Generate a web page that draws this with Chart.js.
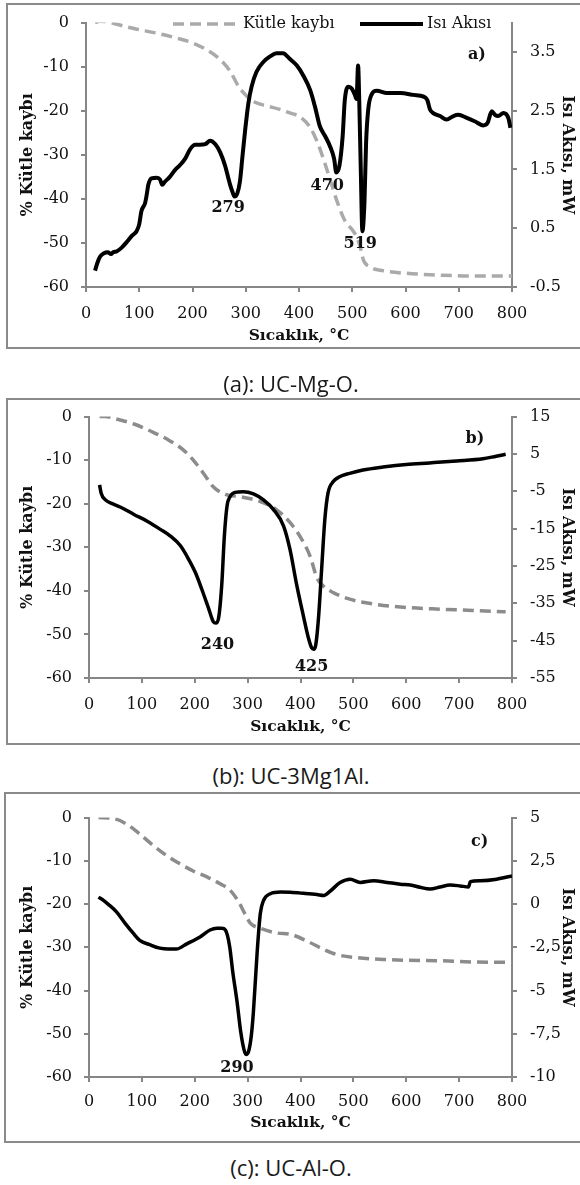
<!DOCTYPE html>
<html>
<head>
<meta charset="utf-8">
<script src="https://cdn.jsdelivr.net/npm/chart.js@4.4.1/dist/chart.umd.min.js"></script>
<style>
  body { margin: 0; width: 580px; height: 1185px; position: relative; overflow: hidden; background: #fff; }
  .frame { position: absolute; width: 620px; border: 2px solid #8a8a8a; box-sizing: border-box; }
  canvas { position: absolute; left: 0; }
  .cap { position: absolute; left: 0; width: 582px; text-align: center; font: 22px "Open Sans", sans-serif; line-height: 26px; color: #1a1a1a; }
</style>
</head>
<body>
<div class="frame" style="left:6px; top:3px; height:346px;"></div>
<div class="frame" style="left:6px; top:398px; height:347px;"></div>
<div class="frame" style="left:4px; top:792px; height:351px;"></div>

<canvas id="chartA" width="580" height="350" style="top:0px"></canvas>
<canvas id="chartB" width="580" height="350" style="top:394px"></canvas>
<canvas id="chartC" width="580" height="350" style="top:795px"></canvas>

<div class="cap" style="top:370px">(a): UC-Mg-O.</div>
<div class="cap" style="top:762px">(b): UC-3Mg1Al.</div>
<div class="cap" style="top:1154px">(c): UC-Al-O.</div>

<script>
// ---- panel a: UC-Mg-O ----
const aHeatT = [17, 21, 26, 33, 41, 47, 51, 58, 67, 76, 86, 95, 100, 104, 111, 114, 117, 123, 133, 139, 143, 148, 157, 167, 176, 186, 196, 205, 214, 224, 233, 243, 252, 261, 270, 275, 279, 284, 289, 294, 299, 305, 311, 320, 333, 345, 358, 370, 383, 396, 408, 421, 430, 439, 449, 458, 466, 470, 476, 482, 486, 493, 499, 505, 508, 511, 513, 516, 519, 523, 526, 530, 536, 546, 565, 590, 615, 634, 641, 646, 652, 665, 677, 690, 699, 715, 730, 746, 754, 762, 768, 774, 784, 793, 797];
const aHeatV = [-0.22, -0.10, 0.01, 0.07, 0.09, 0.06, 0.09, 0.11, 0.17, 0.26, 0.37, 0.45, 0.57, 0.79, 0.93, 1.07, 1.24, 1.35, 1.36, 1.33, 1.24, 1.29, 1.37, 1.49, 1.57, 1.68, 1.85, 1.92, 1.92, 1.93, 1.99, 1.93, 1.79, 1.57, 1.26, 1.12, 1.04, 1.09, 1.29, 1.74, 2.18, 2.63, 2.91, 3.16, 3.33, 3.42, 3.48, 3.48, 3.38, 3.27, 3.10, 2.85, 2.57, 2.24, 2.07, 1.90, 1.68, 1.45, 1.57, 2.07, 2.68, 2.91, 2.88, 2.77, 2.70, 3.27, 2.73, 1.51, 0.45, 0.96, 1.96, 2.52, 2.77, 2.84, 2.80, 2.80, 2.77, 2.74, 2.68, 2.52, 2.46, 2.41, 2.35, 2.41, 2.43, 2.38, 2.32, 2.25, 2.29, 2.49, 2.43, 2.41, 2.46, 2.38, 2.21];
const aMassT = [17, 26, 40, 51, 88, 133, 170, 202, 227, 252, 271, 286, 302, 320, 339, 364, 383, 402, 421, 436, 449, 461, 471, 486, 505, 515, 521, 533, 558, 602, 665, 727, 800];
const aMassV = [0, 0.3, 0.2, -0.15, -1.3, -2.4, -3.5, -4.7, -6.2, -8.4, -11.1, -14.4, -16.7, -18.2, -18.9, -19.7, -20.5, -21.4, -23.8, -27.6, -32.1, -36.6, -40.4, -44.9, -47.9, -50.9, -53.9, -55.4, -56.3, -56.9, -57.3, -57.5, -57.5];
const aRightTicks = [-0.5, 0.5, 1.5, 2.5, 3.5];

// ---- panel b: UC-3Mg1Al ----
const bHeatT = [20, 23, 31, 44, 59, 85, 110, 135, 154, 173, 188, 201, 214, 226, 235, 240, 245, 251, 256, 261, 267, 276, 292, 311, 330, 349, 368, 380, 393, 405, 415, 421, 425, 429, 434, 440, 446, 452, 462, 474, 493, 518, 556, 600, 644, 695, 745, 770, 788];
const bHeatV = [-3.3, -5.5, -7.3, -8.3, -9.2, -11.2, -13.0, -15.2, -17.0, -19.6, -23.1, -26.7, -31.5, -36.3, -39.9, -40.3, -39.0, -30.2, -17.0, -9.0, -6.4, -5.3, -5.1, -5.7, -7.3, -9.9, -14.3, -20.5, -30.2, -38.1, -44.3, -46.9, -47.3, -46.0, -39.0, -25.8, -12.6, -5.5, -2.4, -1.1, -0.2, 0.7, 1.5, 2.2, 2.6, 3.1, 3.7, 4.4, 4.9];
const bMassT = [20, 30, 53, 85, 116, 148, 176, 198, 217, 235, 254, 286, 324, 355, 380, 399, 418, 431, 443, 462, 493, 537, 600, 663, 726, 788];
const bMassV = [0, 0, -0.6, -1.7, -3.3, -5.2, -7.4, -10.1, -13.1, -16.1, -17.7, -18.4, -19.5, -21.4, -24.3, -27.5, -32, -37, -38.9, -40.4, -41.9, -43.0, -43.8, -44.2, -44.5, -44.8];
const bRightTicks = [-55, -45, -35, -25, -15, -5, 5, 15];

// ---- panel c: UC-Al-O ----
const cHeatT = [18, 28, 36, 52, 68, 84, 96, 115, 134, 150, 165, 185, 210, 229, 242, 251, 258, 266, 272, 280, 287, 293, 297, 302, 307, 311, 318, 324, 330, 343, 362, 381, 406, 431, 444, 457, 475, 494, 513, 538, 564, 589, 608, 626, 645, 664, 683, 702, 718, 721, 740, 771, 800];
const cHeatV = [0.4, 0.2, 0.0, -0.45, -1.1, -1.7, -2.1, -2.35, -2.55, -2.6, -2.6, -2.3, -1.9, -1.5, -1.4, -1.4, -1.5, -2.45, -3.95, -5.65, -7.4, -8.4, -8.7, -8.5, -7.6, -6.2, -2.8, -0.55, 0.2, 0.6, 0.7, 0.68, 0.62, 0.55, 0.5, 0.77, 1.25, 1.44, 1.25, 1.35, 1.25, 1.15, 1.1, 0.97, 0.87, 0.99, 1.1, 1.05, 0.99, 1.3, 1.35, 1.44, 1.63];
const cMassT = [18, 46, 71, 96, 122, 147, 172, 198, 223, 248, 267, 283, 296, 305, 324, 356, 381, 413, 444, 469, 507, 557, 601, 664, 727, 800];
const cMassV = [0, -0.2, -1.5, -3.8, -6.5, -8.8, -10.7, -12.4, -13.7, -15.3, -16.8, -19.5, -22.5, -24.4, -25.6, -26.7, -27.0, -28.6, -30.5, -31.7, -32.4, -32.8, -33.0, -33.1, -33.4, -33.5];
const cRightTicks = [-10, -7.5, -5, -2.5, 0, 2.5, 5];

const serif = 'DejaVu Serif';
const axisGray = '#868686';
const inkColor = '#111';

const toPts = (xs, ys) => xs.map((x, i) => ({ x, y: ys[i] }));

// bold peak labels placed in data units
const textMarks = {
    id: 'textMarks',
    afterDatasetsDraw(chart, args, opts) {
        const { ctx, scales } = chart;
        ctx.save();
        ctx.font = `bold 16px "${serif}"`;
        ctx.fillStyle = inkColor;
        ctx.textAlign = 'center';
        ctx.textBaseline = 'middle';
        (opts.items || []).forEach(m => {
            ctx.fillText(m.text, scales.x.getPixelForValue(m.x), scales.y.getPixelForValue(m.y));
        });
        ctx.restore();
    }
};

// Excel-style legend laid over the top edge of the plot
const overlayLegend = {
    id: 'overlayLegend',
    afterDraw(chart, args, opts) {
        if (!opts.items) return;
        const { ctx } = chart;
        ctx.save();
        ctx.font = `16px "${serif}"`;
        ctx.fillStyle = inkColor;
        ctx.textAlign = 'left';
        ctx.textBaseline = 'middle';
        opts.items.forEach(it => {
            const ds = chart.data.datasets[it.dataset];
            ctx.strokeStyle = ds.borderColor;
            ctx.lineWidth = ds.borderWidth;
            ctx.setLineDash(ds.borderDash || []);
            ctx.beginPath();
            ctx.moveTo(it.x, opts.y);
            ctx.lineTo(it.x + it.w, opts.y);
            ctx.stroke();
            ctx.setLineDash([]);
            ctx.fillText(ds.label, it.tx, opts.y);
        });
        ctx.restore();
    }
};

function makePanel(p) {
    const tickFont = { family: serif, size: 16 };
    const titleFont = { family: serif, size: 16, weight: 'bold' };
    const xTitleFont = { family: serif, size: 15.5, weight: 'bold' };
    const tickGrid = { drawOnChartArea: false, tickLength: 5, color: axisGray, lineWidth: 2 };
    const border = { color: axisGray, width: 2 };

    new Chart(document.getElementById(p.id), {
        type: 'line',
        data: {
            datasets: [
                {
                    label: 'Isı Akısı', data: toPts(p.heatT, p.heatV), yAxisID: 'y2',
                    borderColor: '#000', borderWidth: p.heatWidth, pointRadius: 0,
                    cubicInterpolationMode: 'monotone', borderJoinStyle: 'round', fill: false
                },
                {
                    label: 'Kütle kaybı', data: toPts(p.massT, p.massV), yAxisID: 'y',
                    borderColor: p.massColor, borderWidth: 3.5, borderDash: [11, 6], pointRadius: 0,
                    cubicInterpolationMode: 'monotone', fill: false
                }
            ]
        },
        options: {
            responsive: false,
            animation: false,
            layout: { padding: { top: 20, left: 0, right: 0, bottom: 0 } },
            plugins: {
                legend: { display: false },
                tooltip: { enabled: false },
                textMarks: { items: p.marks },
                overlayLegend: p.legend || {}
            },
            scales: {
                x: {
                    type: 'linear', min: 0, max: 800,
                    ticks: { stepSize: 100, font: tickFont, color: inkColor, padding: p.xTickPad, autoSkip: false, maxRotation: 0 },
                    grid: tickGrid, border,
                    title: { display: true, text: 'Sıcaklık, °C', font: xTitleFont, color: inkColor, padding: { top: 0, bottom: p.xTitlePad } },
                    afterFit: s => { s.height = 350 - p.plotBottom; }
                },
                y: {
                    position: 'left', min: -60, max: 0,
                    ticks: { stepSize: 10, font: tickFont, color: inkColor, padding: 12, callback: v => String(v) },
                    grid: tickGrid, border,
                    title: { display: true, text: '% Kütle kaybı', font: titleFont, color: inkColor, padding: { top: 18, bottom: 0 } },
                    afterFit: s => { s.width = p.plotLeft; }
                },
                y2: {
                    position: 'right', min: p.rightMin, max: p.rightMax,
                    ticks: { font: tickFont, color: inkColor, padding: 13, autoSkip: false, callback: v => p.fmt(v) },
                    afterBuildTicks: s => { s.ticks = p.rightTicks.map(v => ({ value: v })); },
                    grid: tickGrid, border,
                    title: { display: true, text: 'Isı Akısı, mW', font: titleFont, color: inkColor, padding: { top: 3, bottom: 0 } },
                    afterFit: s => { s.width = 580 - 512; }
                }
            }
        },
        plugins: [textMarks, overlayLegend]
    });
}

makePanel({
    id: 'chartA', massColor: '#aaaaaa', heatWidth: 4,
    heatT: aHeatT, heatV: aHeatV, massT: aMassT, massV: aMassV,
    rightMin: -0.5, rightMax: 4, rightTicks: aRightTicks, fmt: v => String(v),
    plotLeft: 86, plotBottom: 287, xTickPad: 12, xTitlePad: 5,
    legend: { y: 24, items: [{ dataset: 1, x: 173, w: 65, tx: 243 }, { dataset: 0, x: 360, w: 63, tx: 427 }] },
    marks: [
        { text: '279', x: 267, y: -42.0 },
        { text: '470', x: 453, y: -37.1 },
        { text: '519', x: 515, y: -50.1 },
        { text: 'a)', x: 734, y: -7.4 }
    ]
});

makePanel({
    id: 'chartB', massColor: '#8c8c8c', heatWidth: 3.5,
    heatT: bHeatT, heatV: bHeatV, massT: bMassT, massV: bMassV,
    rightMin: -55, rightMax: 15, rightTicks: bRightTicks, fmt: v => String(v),
    plotLeft: 89, plotBottom: 284, xTickPad: 12, xTitlePad: 8,
    marks: [
        { text: '240', x: 243, y: -52.5 },
        { text: '425', x: 421, y: -57.5 },
        { text: 'b)', x: 730, y: -5.2 }
    ]
});

makePanel({
    id: 'chartC', massColor: '#8c8c8c', heatWidth: 3.5,
    heatT: cHeatT, heatV: cHeatV, massT: cMassT, massV: cMassV,
    rightMin: -10, rightMax: 5, rightTicks: cRightTicks, fmt: v => String(v).replace('.', ','),
    plotLeft: 89, plotBottom: 282, xTickPad: 10, xTitlePad: 13,
    marks: [
        { text: '290', x: 280, y: -57.9 },
        { text: 'c)', x: 739, y: -5.7 }
    ]
});
</script>
</body>
</html>
